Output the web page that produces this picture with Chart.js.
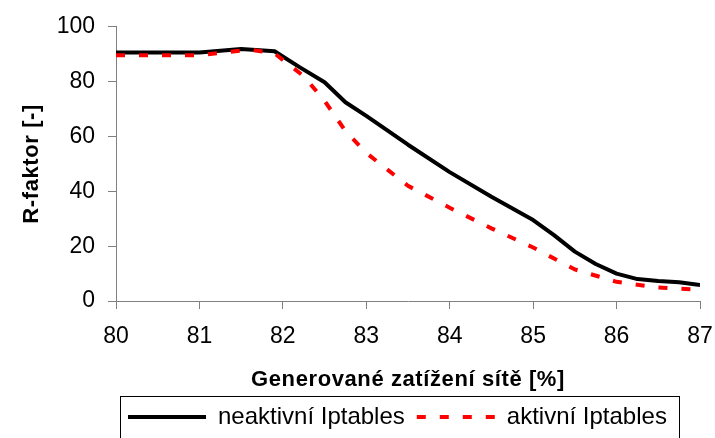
<!DOCTYPE html>
<html>
<head>
<meta charset="utf-8">
<script src="https://cdn.jsdelivr.net/npm/chart.js@4/dist/chart.umd.min.js"></script>
<style>
  html, body { margin: 0; padding: 0; background: #ffffff; }
  #wrap { width: 715px; height: 438px; position: relative; overflow: hidden; }
</style>
</head>
<body>
<div id="wrap"><canvas id="c" width="715" height="438"></canvas></div>
<script>
// Generated network load [%] and measured R-factor, firewall rules off
const loadInactive = [80, 80.5, 81, 81.5, 81.9, 82.2, 82.5, 82.75, 83, 83.5, 84, 84.5, 85, 85.25, 85.5, 85.75, 86, 86.25, 86.5, 86.75, 87];
const rInactive    = [90.6, 90.6, 90.6, 91.9, 91.1, 85.3, 79.8, 72.5, 67.5, 57, 47, 38, 29.5, 24, 18, 13.5, 10, 8, 7.3, 6.8, 5.8];

// Same measurement with Iptables rules active
const loadActive = [80, 80.5, 81, 81.6, 81.9, 82.25, 82.5, 82.75, 83, 83.5, 84, 84.5, 85, 85.5, 86, 86.5, 87];
const rActive    = [89.6, 89.6, 89.6, 91.7, 90.3, 82, 73, 62, 54, 42, 34, 26.5, 19.5, 11.5, 7, 4.9, 4.1];

const seriesNames = ['neaktivní Iptables', 'aktivní Iptables'];
const xTitle = 'Generované zatížení sítě [%]';
const yTitle = 'R-faktor [-]';
const xRange = [80, 87];
const yRange = [0, 100];

const FONT = "'Liberation Sans', Arial, sans-serif";
const AXIS_GREY = '#808080';

const toPoints = (xs, ys) => xs.map((x, i) => ({ x: x, y: ys[i] }));

// Linear scale whose axis title is drawn slightly letter-spaced
class SpacedTitleScale extends Chart.LinearScale {
  drawTitle() {
    const ctx = this.ctx;
    ctx.save();
    if ('letterSpacing' in ctx) ctx.letterSpacing = '0.6px';
    super.drawTitle();
    ctx.restore();
  }
}
SpacedTitleScale.id = 'spacedLinear';
SpacedTitleScale.defaults = Chart.LinearScale.defaults;
Chart.register(SpacedTitleScale);

// Thin frame around the legend row
const legendFrame = {
  id: 'legendFrame',
  afterDraw(chart) {
    const lg = chart.legend;
    if (!lg || !lg.legendHitBoxes || !lg.legendHitBoxes.length) return;
    const boxes = lg.legendHitBoxes;
    const left = Math.min(...boxes.map(b => b.left)) - 8;
    const right = Math.max(...boxes.map(b => b.left + b.width)) + 12;
    const top = Math.min(...boxes.map(b => b.top + b.height / 2)) - 21;
    const ctx = chart.ctx;
    ctx.save();
    ctx.strokeStyle = '#000000';
    ctx.lineWidth = 1;
    ctx.setLineDash([]);
    ctx.strokeRect(Math.round(left) + 0.5, Math.round(top) + 0.5, Math.round(right - left), chart.height);
    ctx.restore();
  }
};

new Chart(document.getElementById('c'), {
  type: 'line',
  data: {
    datasets: [
      {
        label: seriesNames[0],
        data: toPoints(loadInactive, rInactive),
        borderColor: '#000000',
        backgroundColor: '#000000',
        borderWidth: 4,
        pointRadius: 0,
        tension: 0,
        borderJoinStyle: 'round',
        fill: false,
        order: 2
      },
      {
        label: seriesNames[1],
        data: toPoints(loadActive, rActive),
        borderColor: '#ff0000',
        backgroundColor: '#ff0000',
        borderWidth: 4,
        borderDash: [9, 14],
        pointRadius: 0,
        tension: 0,
        fill: false,
        order: 1
      }
    ]
  },
  options: {
    responsive: false,
    animation: false,
    devicePixelRatio: 1,
    layout: { padding: { top: 20, right: 15, bottom: 0, left: 0 } },
    plugins: {
      tooltip: { enabled: false },
      legend: {
        position: 'bottom',
        align: 'start',
        fullSize: false,
        maxHeight: 45,
        labels: {
          usePointStyle: true,
          pointStyle: 'line',
          pointStyleWidth: 78,
          padding: 12,
          color: '#000000',
          font: { family: FONT, size: 24 },
          sort: (a, b) => a.datasetIndex - b.datasetIndex,
          generateLabels(chart) {
            const items = Chart.defaults.plugins.legend.labels.generateLabels(chart);
            return items.map(item => {
              const ds = chart.data.datasets[item.datasetIndex];
              item.pointStyle = 'line';
              item.strokeStyle = ds.borderColor;
              item.lineWidth = ds.borderWidth;
              item.lineDash = ds.borderDash || [];
              item.lineCap = 'butt';
              return item;
            });
          }
        }
      }
    },
    scales: {
      x: {
        type: 'spacedLinear',
        min: xRange[0],
        max: xRange[1],
        afterFit(scale) { scale.height = 92; },
        ticks: {
          stepSize: 1,
          color: '#000000',
          padding: 0,
          font: { family: FONT, size: 23, lineHeight: 2.42 }
        },
        grid: {
          drawOnChartArea: false,
          drawTicks: true,
          tickLength: 8,
          color: AXIS_GREY,
          tickColor: AXIS_GREY
        },
        border: { color: AXIS_GREY, width: 1 },
        title: {
          display: true,
          text: xTitle,
          color: '#000000',
          font: { family: FONT, size: 22, weight: 'bold' },
          padding: { top: 0, bottom: 0 }
        }
      },
      y: {
        type: 'spacedLinear',
        min: yRange[0],
        max: yRange[1],
        afterFit(scale) { scale.width = 116; },
        ticks: {
          stepSize: 20,
          color: '#000000',
          padding: 13,
          font: { family: FONT, size: 23 }
        },
        grid: {
          drawOnChartArea: false,
          drawTicks: true,
          tickLength: 8,
          color: AXIS_GREY,
          tickColor: AXIS_GREY
        },
        border: { color: AXIS_GREY, width: 1 },
        title: {
          display: true,
          text: yTitle,
          color: '#000000',
          font: { family: FONT, size: 22, weight: 'bold' },
          padding: { top: 19, bottom: 0 }
        }
      }
    }
  },
  plugins: [legendFrame]
});
</script>
</body>
</html>
